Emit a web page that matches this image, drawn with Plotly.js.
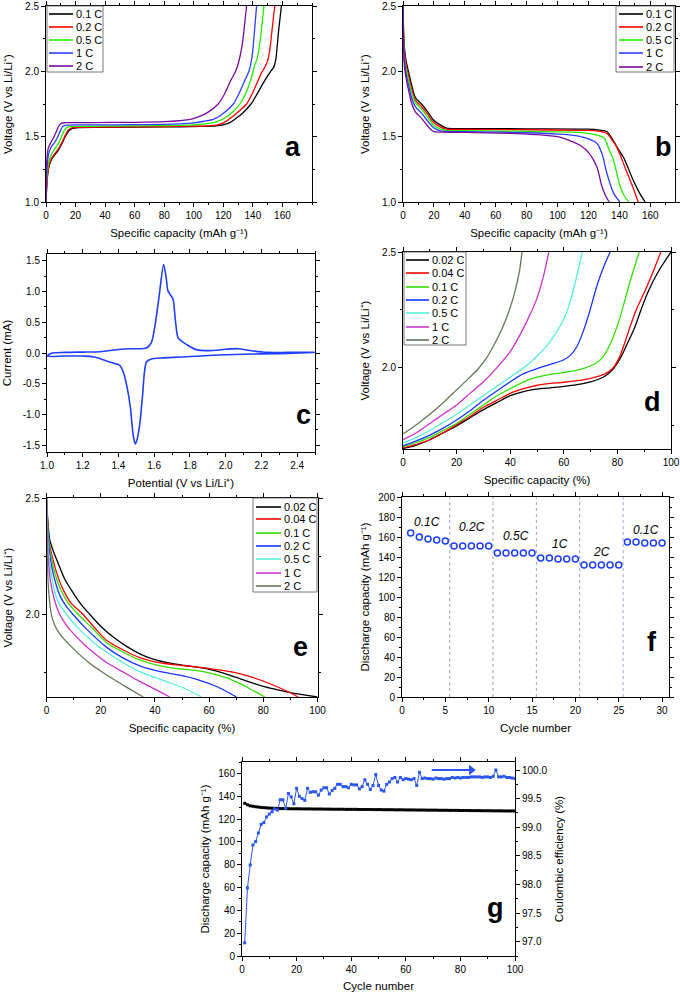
<!DOCTYPE html>
<html>
<head>
<meta charset="utf-8">
<script src="https://cdn.plot.ly/plotly-3.0.1.min.js"></script>
<style>html,body{margin:0;padding:0;background:#fff;}#chart{width:680px;height:992px;}</style>
</head>
<body>
<div id="chart"></div>
<script>
// ---------------- DATA ----------------
// Panel a: charge curves (capacity mAh/g, voltage V)
const a_labels = ['0.1 C','0.2 C','0.5 C','1 C','2 C'];
const a01_x = [0,0.4,1,2,3.5,5.5,8,10.5,13,15.5,18,22,40,80,105,115,120,124,128,133,138.7,143,147,150,152,154,155.5,156.5,157.5,159.3];
const a01_y = [1.0,1.1,1.2,1.27,1.32,1.355,1.39,1.44,1.5,1.545,1.563,1.57,1.572,1.575,1.578,1.582,1.59,1.605,1.635,1.68,1.75,1.83,1.91,1.965,2.0,2.03,2.09,2.2,2.32,2.5];
const a02_x = [0,0.4,1,2,3.5,5.5,8,10.5,13,15,17,21,40,80,100,110,116,120,124,129,135.7,140,143.5,146,148,150,151.5,152.8,154.8];
const a02_y = [1.0,1.1,1.2,1.28,1.33,1.365,1.4,1.45,1.51,1.55,1.566,1.572,1.574,1.577,1.58,1.583,1.59,1.605,1.635,1.68,1.75,1.84,1.93,1.99,2.03,2.08,2.17,2.3,2.5];
const a05_x = [0,0.3,0.8,2,3.5,5.5,8,10.5,12.5,14.5,18,40,80,100,108,114,118,122,126.5,131.2,135.5,139,141,143,144.5,146,147.5];
const a05_y = [1.0,1.12,1.22,1.31,1.36,1.4,1.44,1.5,1.55,1.573,1.578,1.58,1.585,1.59,1.598,1.61,1.625,1.65,1.69,1.75,1.84,1.95,2.04,2.1,2.2,2.34,2.5];
const a1_x = [0,0.3,0.7,1.8,3.5,5.5,8,10,11.5,14,30,60,90,100,107,113.6,119,126.7,131,134.5,137.3,139.3,140.8,142.5];
const a1_y = [1.0,1.15,1.26,1.37,1.42,1.45,1.5,1.55,1.58,1.588,1.59,1.592,1.598,1.605,1.618,1.635,1.67,1.75,1.84,1.93,2.0,2.1,2.27,2.5];
const a2_x = [0,0.2,0.6,1.5,3,5,7,8.8,10.5,13,30,60,80,90,97.8,104,110,116.5,121,125,128.3,131,133,134.5,135.7];
const a2_y = [1.0,1.2,1.33,1.41,1.45,1.49,1.54,1.585,1.603,1.607,1.608,1.61,1.615,1.622,1.632,1.655,1.69,1.75,1.83,1.93,2.0,2.1,2.22,2.37,2.5];

// Panel b: discharge curves
const b_labels = ['0.1 C','0.2 C','0.5 C','1 C','2 C'];
const b01_x = [0,0.4,1,2,3.5,5.5,8,12,16,19.6,24,28.3,40,80,120,127,131.9,135,139,142.7,146,149.2,153,156.7];
const b01_y = [2.5,2.3,2.17,2.08,2.0,1.9,1.8,1.75,1.69,1.63,1.59,1.565,1.562,1.56,1.557,1.55,1.54,1.49,1.41,1.34,1.25,1.16,1.07,1.0];
const b02_x = [0,0.4,1,2,3.5,5.5,8,12,16,19.6,24,28,40,80,115,125,131.9,135,138.3,141.5,144.8,148.5,152.2];
const b02_y = [2.5,2.27,2.14,2.05,1.97,1.87,1.78,1.73,1.67,1.61,1.575,1.558,1.556,1.553,1.548,1.545,1.525,1.48,1.42,1.33,1.23,1.12,1.0];
const b05_x = [0,0.4,1,2,3.5,5.5,8,12,16,19.6,24,28,40,80,110,120,126,130.2,133,136.2,140.5,143,146.1];
const b05_y = [2.5,2.24,2.1,2.02,1.94,1.84,1.76,1.71,1.65,1.59,1.56,1.548,1.546,1.54,1.535,1.525,1.51,1.49,1.41,1.32,1.12,1.05,1.0];
const b1_x = [0,0.4,1,2,3.5,5.5,8,12,16,19.6,24,28,40,80,100,115,125.4,129,131.9,136.2,140.3];
const b1_y = [2.5,2.2,2.07,1.98,1.9,1.8,1.73,1.68,1.62,1.57,1.545,1.54,1.538,1.53,1.52,1.5,1.45,1.36,1.22,1.07,1.0];
const b2_x = [0,0.4,1,2,3.5,5.5,8,12,16,19.6,25,40,70,80,100,110,115,120,125.4,128.7,131,133.4];
const b2_y = [2.5,2.17,2.03,1.95,1.86,1.76,1.69,1.64,1.58,1.54,1.535,1.533,1.525,1.52,1.5,1.46,1.43,1.38,1.27,1.12,1.05,1.0];

// Panel c: cyclic voltammogram (potential V, current mA)
const c_v = [1.0,1.03,1.1,1.2,1.295,1.35,1.426,1.5,1.556,1.584,1.603,1.627,1.653,1.668,1.677,1.69,1.705,1.718,1.733,1.75,1.78,1.836,1.93,2.0,2.07,2.135,2.23,2.35,2.5,
             2.3,2.1,1.9,1.75,1.65,1.6,1.574,1.556,1.546,1.533,1.518,1.503,1.494,1.483,1.466,1.447,1.426,1.407,1.379,1.333,1.295,1.258,1.2,1.1,1.0];
const c_i = [-0.05,0.0,0.01,0.015,0.02,0.04,0.065,0.07,0.08,0.17,0.42,0.91,1.44,1.2,1.01,0.95,0.88,0.55,0.25,0.2,0.14,0.055,0.04,0.06,0.07,0.04,0.01,0.01,0.01,
             -0.01,-0.02,-0.04,-0.065,-0.08,-0.09,-0.11,-0.15,-0.3,-0.75,-1.18,-1.42,-1.48,-1.35,-0.87,-0.54,-0.3,-0.2,-0.17,-0.13,-0.09,-0.06,-0.05,-0.05,-0.05];

// Panel d: charge curves (% capacity)
const d_labels = ['0.02 C','0.04 C','0.1 C','0.2 C','0.5 C','1 C','2 C'];
const d002_x = [0,5,10,15,20,25,30,35,40,45,50,55,60,65,70,75,78,81,83.5,86.3,88.8,91.5,95.5,100];
const d002_y = [1.652,1.667,1.69,1.72,1.75,1.785,1.82,1.85,1.88,1.898,1.908,1.914,1.92,1.928,1.94,1.962,1.99,2.04,2.1,2.17,2.25,2.33,2.42,2.5];
const d004_x = [0,5,10,15,20,25,30,35,40,45,50,55,60,65,70,75,78,80.5,82.5,84.5,87,90.6,93.5,96.2];
const d004_y = [1.655,1.67,1.69,1.72,1.755,1.79,1.83,1.86,1.89,1.91,1.925,1.933,1.938,1.945,1.955,1.972,1.995,2.04,2.1,2.17,2.25,2.34,2.42,2.5];
const d01_x = [0,5,10,15,20,25,30,35,40,45,50,55,60,65,68,72,74.5,76.8,79,81.3,84.4,86.5,88.1];
const d01_y = [1.66,1.678,1.7,1.73,1.76,1.8,1.84,1.88,1.91,1.94,1.96,1.972,1.98,1.99,2.0,2.02,2.045,2.09,2.15,2.23,2.36,2.44,2.5];
const d02_x = [0,5,10,15,20,25,30,35,40,45,50,55,60,62.5,64.8,67,69.3,72.5,75,77.3];
const d02_y = [1.664,1.685,1.71,1.74,1.775,1.815,1.86,1.9,1.94,1.975,1.997,2.015,2.035,2.055,2.09,2.15,2.23,2.36,2.44,2.5];
const d05_x = [0,5,10,15,20,25,30,35,40,45,50,54,57,60,62.5,64.5,66.9];
const d05_y = [1.675,1.7,1.73,1.765,1.8,1.84,1.88,1.92,1.96,2.0,2.05,2.1,2.15,2.21,2.29,2.38,2.5];
const d1_x = [0,5,10,15,20,25,30,35,40,44,47,50,52.5,54.4];
const d1_y = [1.69,1.72,1.76,1.8,1.84,1.89,1.94,2.0,2.07,2.15,2.22,2.3,2.4,2.5];
const d2_x = [0,5,10,15,20,25,28,31,34,37,40,42,43.5,44.4];
const d2_y = [1.715,1.755,1.8,1.85,1.905,1.96,1.995,2.04,2.1,2.17,2.26,2.34,2.42,2.5];

// Panel e: discharge curves (% capacity)
const e_labels = ['0.02 C','0.04 C','0.1 C','0.2 C','0.5 C','1 C','2 C'];
const e002_x = [0,0.5,1.2,2.4,4.3,6.8,10,13,16,20,25,30,35,40,45,50,55,60,65,70,75,80,85,90,95,100];
const e002_y = [2.5,2.4,2.32,2.276,2.22,2.15,2.09,2.04,2.0,1.95,1.9,1.86,1.828,1.806,1.792,1.783,1.775,1.765,1.75,1.73,1.71,1.692,1.678,1.665,1.655,1.646];
const e004_x = [0,0.3,1,2.3,4,6,9,13.5,18,22.1,28,34.4,40,47,55,62,70,76,82,88,92.9];
const e004_y = [2.5,2.42,2.31,2.24,2.17,2.11,2.05,2.0,1.94,1.89,1.85,1.815,1.797,1.785,1.775,1.765,1.75,1.73,1.705,1.675,1.646];
const e01_x = [0,0.3,0.9,2.2,3.8,5.5,8,11.7,17,22.1,28,34.4,40,47,55,60,66,72,76,80.6];
const e01_y = [2.5,2.41,2.31,2.22,2.15,2.1,2.05,2.0,1.94,1.88,1.84,1.805,1.785,1.77,1.76,1.75,1.73,1.7,1.675,1.646];
const e02_x = [0,0.3,0.8,2,3.5,5,7,9.8,15,22.1,28,34.4,42,49.2,56,63,70.1];
const e02_y = [2.5,2.4,2.3,2.2,2.13,2.08,2.04,2.0,1.935,1.86,1.815,1.78,1.755,1.74,1.72,1.69,1.646];
const e05_x = [0,0.25,0.7,1.8,3,4.5,7.4,11,17.8,22,28,34.4,40,46,52,57.2];
const e05_y = [2.5,2.4,2.28,2.17,2.1,2.05,2.0,1.95,1.876,1.84,1.795,1.755,1.73,1.705,1.677,1.646];
const e1_x = [0,0.2,0.6,1.5,3,4.9,7,9,13.5,18,22,28,34,40,45.5];
const e1_y = [2.5,2.38,2.25,2.14,2.06,2.0,1.96,1.93,1.876,1.83,1.795,1.755,1.715,1.68,1.646];
const e2_x = [0,0.15,0.4,0.8,1.8,3,5,8,12,16,19.7,25,30,35.7];
const e2_y = [2.5,2.35,2.2,2.1,2.0,1.955,1.915,1.876,1.83,1.79,1.76,1.72,1.685,1.646];

// Panel f: rate capability
const f_cycles = [1,2,3,4,5,6,7,8,9,10,11,12,13,14,15,16,17,18,19,20,21,22,23,24,25,26,27,28,29,30];
const f_capacity = [164,160,158,157,156, 151,151,151,151,151, 144,144,144,144,144, 139,139,138,138,138, 132,132,132,132,132, 155,155,154,154,154];
const f_boundaries = [5.5,10.5,15.5,20.5,25.5];
const f_rates = ['0.1C','0.2C','0.5C','1C','2C','0.1C'];
const f_rate_cycle = [2.9,8.1,13.1,18.2,23.0,28.1];
const f_rate_cap = [175,170,161,153,145,167];

// Panel g: long cycling
const g_cycles = [1,2,3,4,5,6,7,8,9,10,11,12,13,14,15,16,17,18,19,20,21,22,23,24,25,26,27,28,29,30,31,32,33,34,35,36,37,38,39,40,41,42,43,44,45,46,47,48,49,50,51,52,53,54,55,56,57,58,59,60,61,62,63,64,65,66,67,68,69,70,71,72,73,74,75,76,77,78,79,80,81,82,83,84,85,86,87,88,89,90,91,92,93,94,95,96,97,98,99,100];
const g_capacity = [133.8,132.5,131.6,131.2,130.8,130.5,130.2,130.0,129.8,129.6,
  129.5,129.4,129.3,129.2,129.2,129.1,129.1,129.0,129.0,129.0,
  129.0,128.9,128.9,128.9,128.9,128.8,128.8,128.8,128.8,128.7,
  128.7,128.7,128.6,128.6,128.6,128.6,128.6,128.5,128.5,128.5,
  128.5,128.5,128.4,128.4,128.4,128.4,128.4,128.3,128.3,128.3,
  128.3,128.2,128.2,128.2,128.2,128.1,128.1,128.1,128.1,128.0,
  128.0,128.0,128.0,127.9,127.9,127.9,127.9,127.8,127.8,127.8,
  127.8,127.7,127.7,127.7,127.7,127.6,127.6,127.6,127.6,127.5,
  127.5,127.5,127.5,127.4,127.4,127.4,127.4,127.3,127.3,127.3,
  127.3,127.2,127.2,127.2,127.2,127.1,127.1,127.1,127.1,127.0];
const g_efficiency = [96.98,97.94,98.34,98.69,98.75,98.90,99.05,99.08,99.18,99.23,
  99.27,99.32,99.30,99.48,99.48,99.33,99.59,99.53,99.41,99.68,
  99.54,99.50,99.47,99.68,99.61,99.62,99.62,99.56,99.65,99.69,
  99.69,99.58,99.64,99.68,99.75,99.75,99.71,99.71,99.69,99.75,
  99.74,99.74,99.67,99.71,99.83,99.75,99.66,99.73,99.92,99.73,
  99.65,99.63,99.75,99.79,99.85,99.87,99.79,99.87,99.83,99.85,
  99.84,99.83,99.85,99.73,99.96,99.85,99.86,99.85,99.85,99.84,
  99.86,99.85,99.85,99.84,99.85,99.85,99.87,99.86,99.87,99.86,
  99.87,99.87,99.87,99.88,99.88,99.88,99.88,99.87,99.88,99.88,
  99.87,99.89,100.0,99.88,99.88,99.89,99.87,99.87,99.86,99.85];
const g_arrow_x = [69.5, 84];
const g_arrow_y = [100.0, 100.0];

// ---------------- STYLE / LAYOUT ----------------
const W = 680, H = 992;
const FONT = 'Liberation Sans, Arial, sans-serif';
const px = v => v / W;
const py = v => 1 - v / H;
const dx = (l, r) => [l / W, r / W];
const dy = (t, b) => [1 - b / H, 1 - t / H];

const colA = ['#000000', '#ff0000', '#22ee00', '#2f3dff', '#7a0a9a'];
const colD = ['#000000', '#ff0000', '#33dd00', '#1a33ff', '#55eedd', '#cc33cc', '#667755'];

function axis(extra) {
  return Object.assign({
    showline: true, linecolor: '#000', linewidth: 1, mirror: 'ticks',
    ticks: 'outside', ticklen: 4, tickwidth: 1, tickcolor: '#000',
    showgrid: false, zeroline: false,
    tickfont: {family: FONT, size: 10, color: '#000'}
  }, extra);
}
function ttl(text, standoff) {
  return {text: text, font: {family: FONT, size: 11.5, color: '#000'}, standoff: standoff};
}

const traces = [];
function line(x, y, xa, ya, color, width) {
  traces.push({x: x, y: y, xaxis: xa, yaxis: ya, type: 'scatter', mode: 'lines',
    line: {color: color, width: width || 1.3, shape: 'spline', smoothing: 0.8},
    showlegend: false, hoverinfo: 'skip'});
}

// a
[[a01_x,a01_y],[a02_x,a02_y],[a05_x,a05_y],[a1_x,a1_y],[a2_x,a2_y]].forEach((s,i)=>line(s[0],s[1],'x','y',colA[i]));
// b
[[b01_x,b01_y],[b02_x,b02_y],[b05_x,b05_y],[b1_x,b1_y],[b2_x,b2_y]].forEach((s,i)=>line(s[0],s[1],'x2','y2',colA[i]));
// c
line(c_v, c_i, 'x3', 'y3', '#1f3fff', 1.6);
// d
[[d002_x,d002_y],[d004_x,d004_y],[d01_x,d01_y],[d02_x,d02_y],[d05_x,d05_y],[d1_x,d1_y],[d2_x,d2_y]].forEach((s,i)=>line(s[0],s[1],'x4','y4',colD[i]));
// e
[[e002_x,e002_y],[e004_x,e004_y],[e01_x,e01_y],[e02_x,e02_y],[e05_x,e05_y],[e1_x,e1_y],[e2_x,e2_y]].forEach((s,i)=>line(s[0],s[1],'x5','y5',colD[i]));
// f boundaries
f_boundaries.forEach(b => traces.push({x: [b, b], y: [0, 200], xaxis: 'x6', yaxis: 'y6', type: 'scatter', mode: 'lines',
  line: {color: '#95a3cc', width: 1, dash: 'dot'}, showlegend: false, hoverinfo: 'skip'}));
traces.push({x: f_cycles, y: f_capacity, xaxis: 'x6', yaxis: 'y6', type: 'scatter', mode: 'markers',
  marker: {symbol: 'circle-open', size: 6, color: '#1f3fff', line: {width: 1.5, color: '#1f3fff'}},
  showlegend: false, hoverinfo: 'skip'});
// g
traces.push({x: g_cycles, y: g_capacity, xaxis: 'x7', yaxis: 'y7', type: 'scatter', mode: 'lines+markers',
  line: {color: '#000', width: 1}, marker: {color: '#000', size: 3, symbol: 'square'}, showlegend: false, hoverinfo: 'skip'});
traces.push({x: g_cycles, y: g_efficiency, xaxis: 'x7', yaxis: 'y8', type: 'scatter', mode: 'lines+markers',
  line: {color: '#2a55ee', width: 1}, marker: {color: '#2a55ee', size: 3, symbol: 'square'}, showlegend: false, hoverinfo: 'skip'});
traces.push({x: g_arrow_x, y: g_arrow_y, xaxis: 'x7', yaxis: 'y8', type: 'scatter', mode: 'lines',
  line: {color: '#2a55ee', width: 2}, showlegend: false, hoverinfo: 'skip'});
traces.push({x: [g_arrow_x[1]], y: [g_arrow_y[1]], xaxis: 'x7', yaxis: 'y8', type: 'scatter', mode: 'markers',
  marker: {symbol: 'triangle-right', size: 9, color: '#2a55ee'}, showlegend: false, hoverinfo: 'skip'});

const capTitle = 'Specific capacity (mAh g\u207B\u00B9)';
const voltTitle = 'Voltage (V vs Li/Li\u207A)';
const capTicks = [0,20,40,60,80,100,120,140,160];
const mnr = (d, t0) => ({dtick: d, tick0: t0 || 0, ticklen: 2, ticks: 'outside', tickcolor: '#000'});

const layout = {
  width: W, height: H, margin: {l: 0, r: 0, t: 0, b: 0},
  paper_bgcolor: '#fff', plot_bgcolor: '#fff', showlegend: false,
  font: {family: FONT, color: '#000'},
  xaxis: axis({domain: dx(46, 312), anchor: 'y', range: [0, 180], tickvals: capTicks, minor: mnr(10), title: ttl(capTitle, 8)}),
  yaxis: axis({domain: dy(6, 202), anchor: 'x', range: [1.0, 2.5], dtick: 0.5, tickformat: '.1f', minor: mnr(0.25), title: ttl(voltTitle, 10)}),
  xaxis2: axis({domain: dx(403, 675), anchor: 'y2', range: [0, 176], tickvals: capTicks, minor: mnr(10), title: ttl(capTitle, 8)}),
  yaxis2: axis({domain: dy(6, 202), anchor: 'x2', range: [1.0, 2.5], dtick: 0.5, tickformat: '.1f', minor: mnr(0.25), title: ttl(voltTitle, 10)}),
  xaxis3: axis({domain: dx(47, 315), anchor: 'y3', range: [1.0, 2.5], tickvals: [1.0,1.2,1.4,1.6,1.8,2.0,2.2,2.4], tickformat: '.1f', minor: mnr(0.1, 1.0), title: ttl('Potential (V vs Li/Li\u207A)', 8)}),
  yaxis3: axis({domain: dy(254, 452), anchor: 'x3', range: [-1.61, 1.61], tickvals: [-1.5,-1.0,-0.5,0,0.5,1.0,1.5], ticktext: ['-1.5','-1.0','-0.5','0.0','0.5','1.0','1.5'], minor: mnr(0.25), title: ttl('Current (mA)', 8)}),
  xaxis4: axis({domain: dx(403, 671), anchor: 'y4', range: [0, 100], dtick: 20, minor: mnr(10), title: ttl('Specific capacity (%)', 8)}),
  yaxis4: axis({domain: dy(252, 449), anchor: 'x4', range: [1.65, 2.5], dtick: 0.5, tick0: 0, tickformat: '.1f', minor: mnr(0.25), title: ttl(voltTitle, 10)}),
  xaxis5: axis({domain: dx(46.5, 317.5), anchor: 'y5', range: [0, 100], dtick: 20, minor: mnr(10), title: ttl('Specific capacity (%)', 8)}),
  yaxis5: axis({domain: dy(498, 697), anchor: 'x5', range: [1.646, 2.5], dtick: 0.5, tick0: 0, tickformat: '.1f', minor: mnr(0.25), title: ttl(voltTitle, 10)}),
  xaxis6: axis({domain: dx(402, 669), anchor: 'y6', range: [0, 30.8], dtick: 5, minor: mnr(2.5), title: ttl('Cycle number', 8)}),
  yaxis6: axis({domain: dy(497, 697), anchor: 'x6', range: [0, 200], dtick: 20, minor: mnr(10), title: ttl('Discharge capacity (mAh g\u207B\u00B9)', 6)}),
  xaxis7: axis({domain: dx(242, 515), anchor: 'y7', range: [0, 100], dtick: 20, minor: mnr(10), title: ttl('Cycle number', 8)}),
  yaxis7: axis({domain: dy(762, 956), anchor: 'x7', range: [0, 170], dtick: 20, mirror: false, minor: mnr(10), title: ttl('Discharge capacity (mAh g\u207B\u00B9)', 6)}),
  yaxis8: axis({overlaying: 'y7', anchor: 'x7', side: 'right', range: [96.75, 100.14], dtick: 0.5, tick0: 0, tickformat: '.1f', mirror: false, minor: mnr(0.25), title: ttl('Coulombic efficiency (%)', 8)}),
  shapes: [], annotations: []
};

// panel letters
const letters = [['a',293,147],['b',663,147],['c',303,415],['d',652,402],['e',300,647],['f',652,642],['g',495,908]];
letters.forEach(l => layout.annotations.push({text: '<b>' + l[0] + '</b>', x: px(l[1]), y: py(l[2]), xref: 'paper', yref: 'paper',
  xanchor: 'center', yanchor: 'middle', showarrow: false, font: {family: FONT, size: 27, color: '#000'}}));

// f rate labels
f_rates.forEach((t, i) => layout.annotations.push({text: '<i>' + t + '</i>', x: f_rate_cycle[i], y: f_rate_cap[i], xref: 'x6', yref: 'y6',
  showarrow: false, font: {family: FONT, size: 12, color: '#000'}}));

// manual legends (compact entries as in the reference)
function legend(labels, colors, box, lx0, lx1, tx, ys) {
  layout.shapes.push({type: 'rect', xref: 'paper', yref: 'paper', x0: px(box[0]), x1: px(box[2]), y0: py(box[3]), y1: py(box[1]),
    line: {color: '#555', width: 0.8}, fillcolor: 'rgba(255,255,255,0)'});
  labels.forEach((lab, i) => {
    layout.shapes.push({type: 'line', xref: 'paper', yref: 'paper', x0: px(lx0), x1: px(lx1), y0: py(ys[i]), y1: py(ys[i]),
      line: {color: colors[i], width: 1.6}});
    layout.annotations.push({text: lab, x: px(tx), y: py(ys[i]), xref: 'paper', yref: 'paper', xanchor: 'left', yanchor: 'middle',
      showarrow: false, font: {family: FONT, size: 11, color: '#000'}});
  });
}
legend(a_labels, colA, [47, 6, 103, 72], 49, 73, 74, [14, 27, 40, 53, 66]);
legend(b_labels, colA, [616, 6, 674, 72], 619, 643, 644, [14, 27, 40, 53, 67]);
legend(d_labels, colD, [404, 252, 466, 345], 406, 429, 430, [260, 273, 287, 300, 313, 327, 340]);
legend(e_labels, colD, [253, 498, 317, 592], 256, 281, 282, [507, 519, 533, 546, 559, 573, 586]);

Plotly.newPlot('chart', traces, layout, {staticPlot: true, displayModeBar: false});
</script>
</body>
</html>
